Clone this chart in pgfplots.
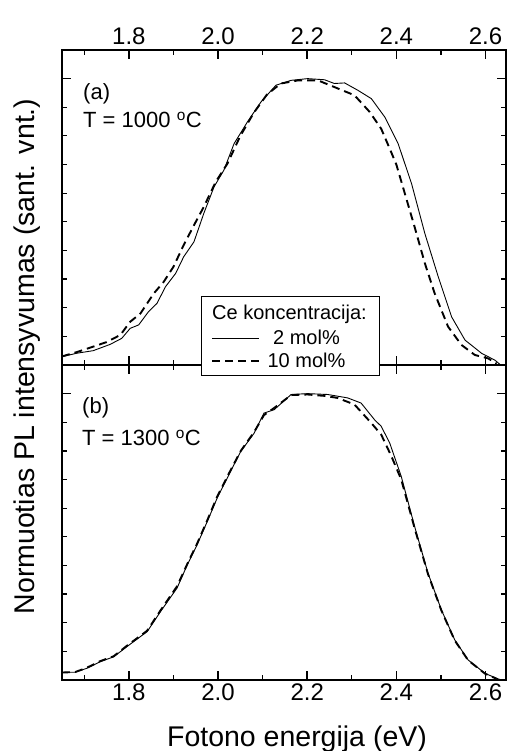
\documentclass[border=0pt]{standalone}
\usepackage{fontspec}
\setmainfont{Liberation Sans}
\usepackage{pgfplots}
\pgfplotsset{compat=1.18}
\pgfplotstableread{
x y
1.650 0.029
1.683 0.041
1.720 0.050
1.758 0.072
1.784 0.093
1.803 0.128
1.822 0.140
1.844 0.186
1.863 0.215
1.882 0.273
1.905 0.320
1.923 0.378
1.946 0.430
1.968 0.529
1.991 0.622
2.013 0.680
2.036 0.773
2.066 0.849
2.096 0.918
2.130 0.977
2.164 0.994
2.201 1.000
2.239 0.996
2.261 0.983
2.284 0.985
2.314 0.959
2.344 0.930
2.374 0.866
2.404 0.773
2.434 0.634
2.464 0.459
2.494 0.308
2.524 0.168
2.554 0.087
2.591 0.041
2.621 0.017
2.634 0.000
}\topA
\pgfplotstableread{
x y
1.650 0.030
1.683 0.045
1.720 0.064
1.750 0.080
1.781 0.105
1.803 0.151
1.826 0.180
1.856 0.250
1.878 0.290
1.900 0.343
1.923 0.419
1.946 0.488
1.968 0.552
1.995 0.640
2.021 0.703
2.050 0.800
2.080 0.880
2.110 0.945
2.141 0.983
2.180 0.994
2.224 0.994
2.265 0.968
2.306 0.942
2.340 0.884
2.366 0.825
2.385 0.756
2.400 0.700
2.419 0.599
2.441 0.482
2.464 0.355
2.486 0.250
2.516 0.134
2.546 0.070
2.576 0.035
2.606 0.023
2.625 0.005
}\topB
\pgfplotstableread{
x y
1.650 0.027
1.679 0.027
1.706 0.041
1.736 0.064
1.766 0.081
1.796 0.117
1.841 0.169
1.871 0.239
1.908 0.321
1.931 0.402
1.953 0.472
1.976 0.554
1.998 0.635
2.028 0.728
2.051 0.798
2.081 0.862
2.103 0.932
2.126 0.944
2.164 0.997
2.201 1.000
2.246 0.997
2.291 0.985
2.321 0.967
2.351 0.909
2.366 0.886
2.385 0.828
2.411 0.711
2.441 0.536
2.471 0.373
2.501 0.245
2.531 0.140
2.561 0.070
2.599 0.023
2.625 0.006
2.635 0.000
}\botA
\pgfplotstableread{
x y
1.650 0.026
1.680 0.028
1.706 0.043
1.736 0.066
1.766 0.083
1.796 0.120
1.841 0.172
1.871 0.243
1.908 0.327
1.931 0.405
1.953 0.476
1.976 0.558
1.998 0.640
2.028 0.732
2.051 0.800
2.081 0.866
2.103 0.925
2.126 0.950
2.164 0.995
2.201 0.997
2.240 0.992
2.268 0.985
2.306 0.962
2.344 0.897
2.366 0.857
2.389 0.781
2.411 0.700
2.441 0.530
2.471 0.370
2.501 0.243
2.531 0.138
2.561 0.069
2.599 0.022
2.625 0.004
}\botB
\tikzset{
  sol/.style={black, line width=0.9pt},
  das/.style={black, line width=1.9pt, dash pattern=on 8pt off 5pt},
}
\pgfplotsset{
  panel/.style={
    scale only axis, width=444pt, height=315pt,
    xmin=1.65, xmax=2.646, ymin=0, ymax=1.1,
    xtick={1.8,2.0,2.2,2.4,2.6},
    minor xtick={1.7,1.9,2.1,2.3,2.5},
    ytick={0,1}, minor ytick={0.1,0.2,0.3,0.4,0.5,0.6,0.7,0.8,0.9},
    yticklabels={},
    tick align=inside,
    major tick length=9pt, minor tick length=5pt,
    axis line style={line width=1.6pt},
    every tick/.style={black, line width=1.4pt},
    every minor tick/.append style={line width=1.2pt},
    xticklabel style={font=\fontsize{24}{28}\selectfont},
    /pgf/number format/.cd, fixed, fixed zerofill, precision=1, assume math mode=true,
  },
}
\begin{document}
\begin{tikzpicture}[x=1pt,y=1pt]
\begin{axis}[panel, at={(62pt,386pt)}, anchor=south west,
  xticklabel pos=upper, xticklabel style={yshift=2pt}]
\addplot[sol] table[x=x,y=y]{\topA};
\addplot[das] table[x=x,y=y]{\topB};
\end{axis}
\begin{axis}[panel, at={(62pt,71pt)}, anchor=south west,
  xticklabel pos=lower]
\addplot[sol] table[x=x,y=y]{\botA};
\addplot[das] table[x=x,y=y]{\botB};
\end{axis}
% panel labels
\node[anchor=base west, inner sep=0pt, font=\fontsize{22}{26}\selectfont] at (83,651) {(a)};
\node[anchor=base west, inner sep=0pt, font=\fontsize{22}{26}\selectfont] at (83,623) {T = 1000 \textsuperscript{o}C};
\node[anchor=base west, inner sep=0pt, font=\fontsize{22}{26}\selectfont] at (82,337) {(b)};
\node[anchor=base west, inner sep=0pt, font=\fontsize{22}{26}\selectfont] at (82,305) {T = 1300 \textsuperscript{o}C};
% legend
\draw[black, line width=0.9pt, fill=white] (201,376) rectangle (379,455);
\node[anchor=base west, inner sep=0pt, font=\fontsize{20}{24}\selectfont] at (212,431) {Ce koncentracija:};
\draw[sol] (212,412.7) -- (259,412.7);
\node[anchor=base, inner sep=0pt, font=\fontsize{20}{24}\selectfont] at (306.5,406) {2 mol\%};
\draw[das] (212,390.3) -- (259,390.3);
\node[anchor=base, inner sep=0pt, font=\fontsize{20}{24}\selectfont] at (306.5,383) {10 mol\%};
% axis labels
\node[anchor=base, inner sep=0pt, font=\fontsize{28.5}{32}\selectfont] at (297,5) {Fotono energija (eV)};
\node[anchor=base, inner sep=0pt, rotate=90, font=\fontsize{28.5}{32}\selectfont] at (35,394.5) {Normuotias PL intensyvumas (sant. vnt.)};
\pgfresetboundingbox
\path[use as bounding box] (0,0) rectangle (506,751);
\end{tikzpicture}
\end{document}
